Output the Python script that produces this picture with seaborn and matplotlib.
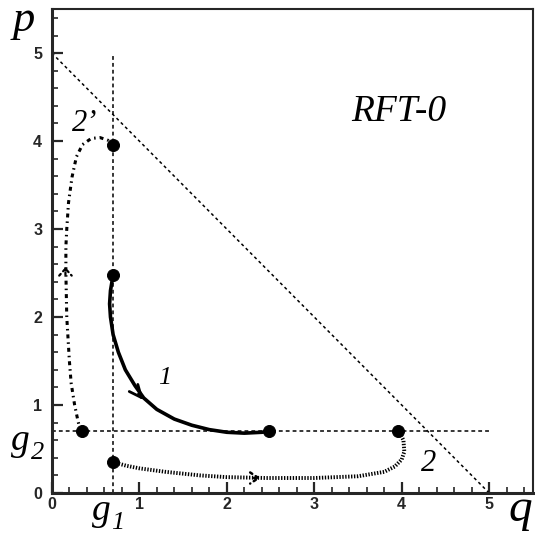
import numpy as np
import pandas as pd
import matplotlib
matplotlib.use("Agg")
import matplotlib.pyplot as plt
import seaborn as sns
from matplotlib.ticker import MultipleLocator

# Estilo base
sns.set_style("ticks", {"xtick.direction": "in", "ytick.direction": "in"})
plt.rcParams['font.family'] = ['Liberation Sans', 'DejaVu Sans']

# Umbrales
g1 = 0.70
g2 = 0.70
diag_q = [0.0, 5.0]
diag_p = [5.0, 0.0]

# Trayectoria 1 (sólida)
q1 = [0.70, 0.67, 0.66, 0.67, 0.70, 0.76, 0.84, 0.95, 1.05, 1.20, 1.40, 1.60, 1.80, 2.00, 2.20, 2.40, 2.48]
p1 = [2.48, 2.30, 2.15, 2.00, 1.80, 1.60, 1.40, 1.22, 1.08, 0.95, 0.84, 0.77, 0.72, 0.69, 0.68, 0.69, 0.70]

# Trayectoria 2 (punteada densa)
q2 = [0.70, 0.85, 1.00, 1.30, 1.69, 2.00, 2.45, 3.00, 3.50, 3.80, 3.92, 4.00, 4.03, 4.02, 3.97]
p2 = [0.35, 0.31, 0.28, 0.24, 0.20, 0.18, 0.17, 0.17, 0.19, 0.24, 0.30, 0.38, 0.47, 0.60, 0.70]

# Trayectoria 2' (punto-raya)
q2b = [0.33, 0.30, 0.26, 0.22, 0.20, 0.17, 0.16, 0.16, 0.17, 0.19, 0.23, 0.28, 0.35, 0.45, 0.55, 0.64, 0.70]
p2b = [0.70, 0.81, 1.00, 1.25, 1.50, 2.00, 2.50, 2.80, 3.00, 3.30, 3.59, 3.82, 3.96, 4.03, 4.04, 4.01, 3.95]

# Puntos fijos
pts_q = [0.70, 0.70, 2.48, 3.96, 0.34, 0.70]
pts_p = [3.95, 2.48, 0.70, 0.70, 0.70, 0.35]

fig = plt.figure(figsize=(5.35, 5.37), dpi=100)
ax = fig.add_axes([0.097, 0.082, 0.899, 0.901])

# Líneas de referencia
ax.plot([g1, g1], [0, 5], color='black', lw=1.1, dashes=(2.5, 2))
ax.plot([0, 5], [g2, g2], color='black', lw=1.1, dashes=(2.5, 2))
sns.lineplot(x=diag_q, y=diag_p, ax=ax, color='black', lw=1.1,
             linestyle=(0, (2.0, 2.0)), sort=False)

# Trayectorias
sns.lineplot(x=q1, y=p1, ax=ax, color='black', lw=2.6, sort=False, estimator=None)
sns.lineplot(x=q2, y=p2, ax=ax, color='black', lw=2.8, sort=False, estimator=None,
             linestyle=(0, (0.35, 0.4)))
sns.lineplot(x=q2b, y=p2b, ax=ax, color='black', lw=2.2, sort=False, estimator=None,
             linestyle=(0, (1.3, 1.3, 0.5, 1.3)))

sns.scatterplot(x=pts_q, y=pts_p, ax=ax, color='black', s=75, zorder=5, edgecolor='black')

# Flechas de dirección
ax.annotate('', xy=(1.07, 1.03), xytext=(0.97, 1.15),
            arrowprops=dict(arrowstyle='->,head_length=0.9,head_width=0.4', lw=2, color='black'))
ax.annotate('', xy=(0.155, 2.60), xytext=(0.155, 2.45),
            arrowprops=dict(arrowstyle='->,head_length=0.5,head_width=0.45', lw=1.6,
                            color='black', linestyle=':'))
ax.annotate('', xy=(2.42, 0.17), xytext=(2.28, 0.17),
            arrowprops=dict(arrowstyle='->,head_length=0.6,head_width=0.4', lw=1.8,
                            color='black', linestyle=':'))

# Etiquetas de curvas
serif_it = dict(family='Liberation Serif', style='italic', color='black')
ax.text(3.97, 4.33, 'RFT-0', fontsize=27, ha='center', va='center', **serif_it)
ax.text(1.29, 1.31, '1', fontsize=19, ha='center', va='center', **serif_it)
ax.text(4.31, 0.33, '2', fontsize=22, ha='center', va='center', **serif_it)
ax.text(0.38, 4.20, "2\u2019", fontsize=22, ha='center', va='center', **serif_it)

# Ejes
ax.set_xlim(0, 5.5)
ax.set_ylim(0, 5.5)
ax.set_xticks([0, 1, 2, 3, 4, 5])
ax.set_yticks([0, 1, 2, 3, 4, 5])
ax.xaxis.set_minor_locator(MultipleLocator(0.2))
ax.yaxis.set_minor_locator(MultipleLocator(0.2))
ax.tick_params(which='major', direction='in', length=8, width=1.6, labelsize=11.5,
               top=False, right=False)
ax.tick_params(which='minor', direction='in', length=4, width=1.2, top=False, right=False)
ax.tick_params(axis='x', pad=3)
ax.tick_params(axis='y', pad=7)
for lab in ax.get_xticklabels() + ax.get_yticklabels():
    lab.set_fontweight('bold')
for side in ['left', 'bottom']:
    ax.spines[side].set_linewidth(2.2)
for side in ['top', 'right']:
    ax.spines[side].set_linewidth(1.5)
ax.set_xlabel('')
ax.set_ylabel('')

# Rótulos de ejes (texto serif cursiva, subíndices aparte)
fig.text(0.024, 0.942, 'p', fontsize=32, ha='left', va='baseline', **serif_it)
fig.text(0.950, 0.030, 'q', fontsize=34, ha='left', va='baseline', **serif_it)
fig.text(0.020, 0.162, 'g', fontsize=27, ha='left', va='baseline', **serif_it)
fig.text(0.058, 0.145, '2', fontsize=19, ha='left', va='baseline', **serif_it)
fig.text(0.172, 0.032, 'g', fontsize=27, ha='left', va='baseline', **serif_it)
fig.text(0.208, 0.014, '1', fontsize=19, ha='left', va='baseline', **serif_it)

plt.savefig('out.png', dpi=100)
